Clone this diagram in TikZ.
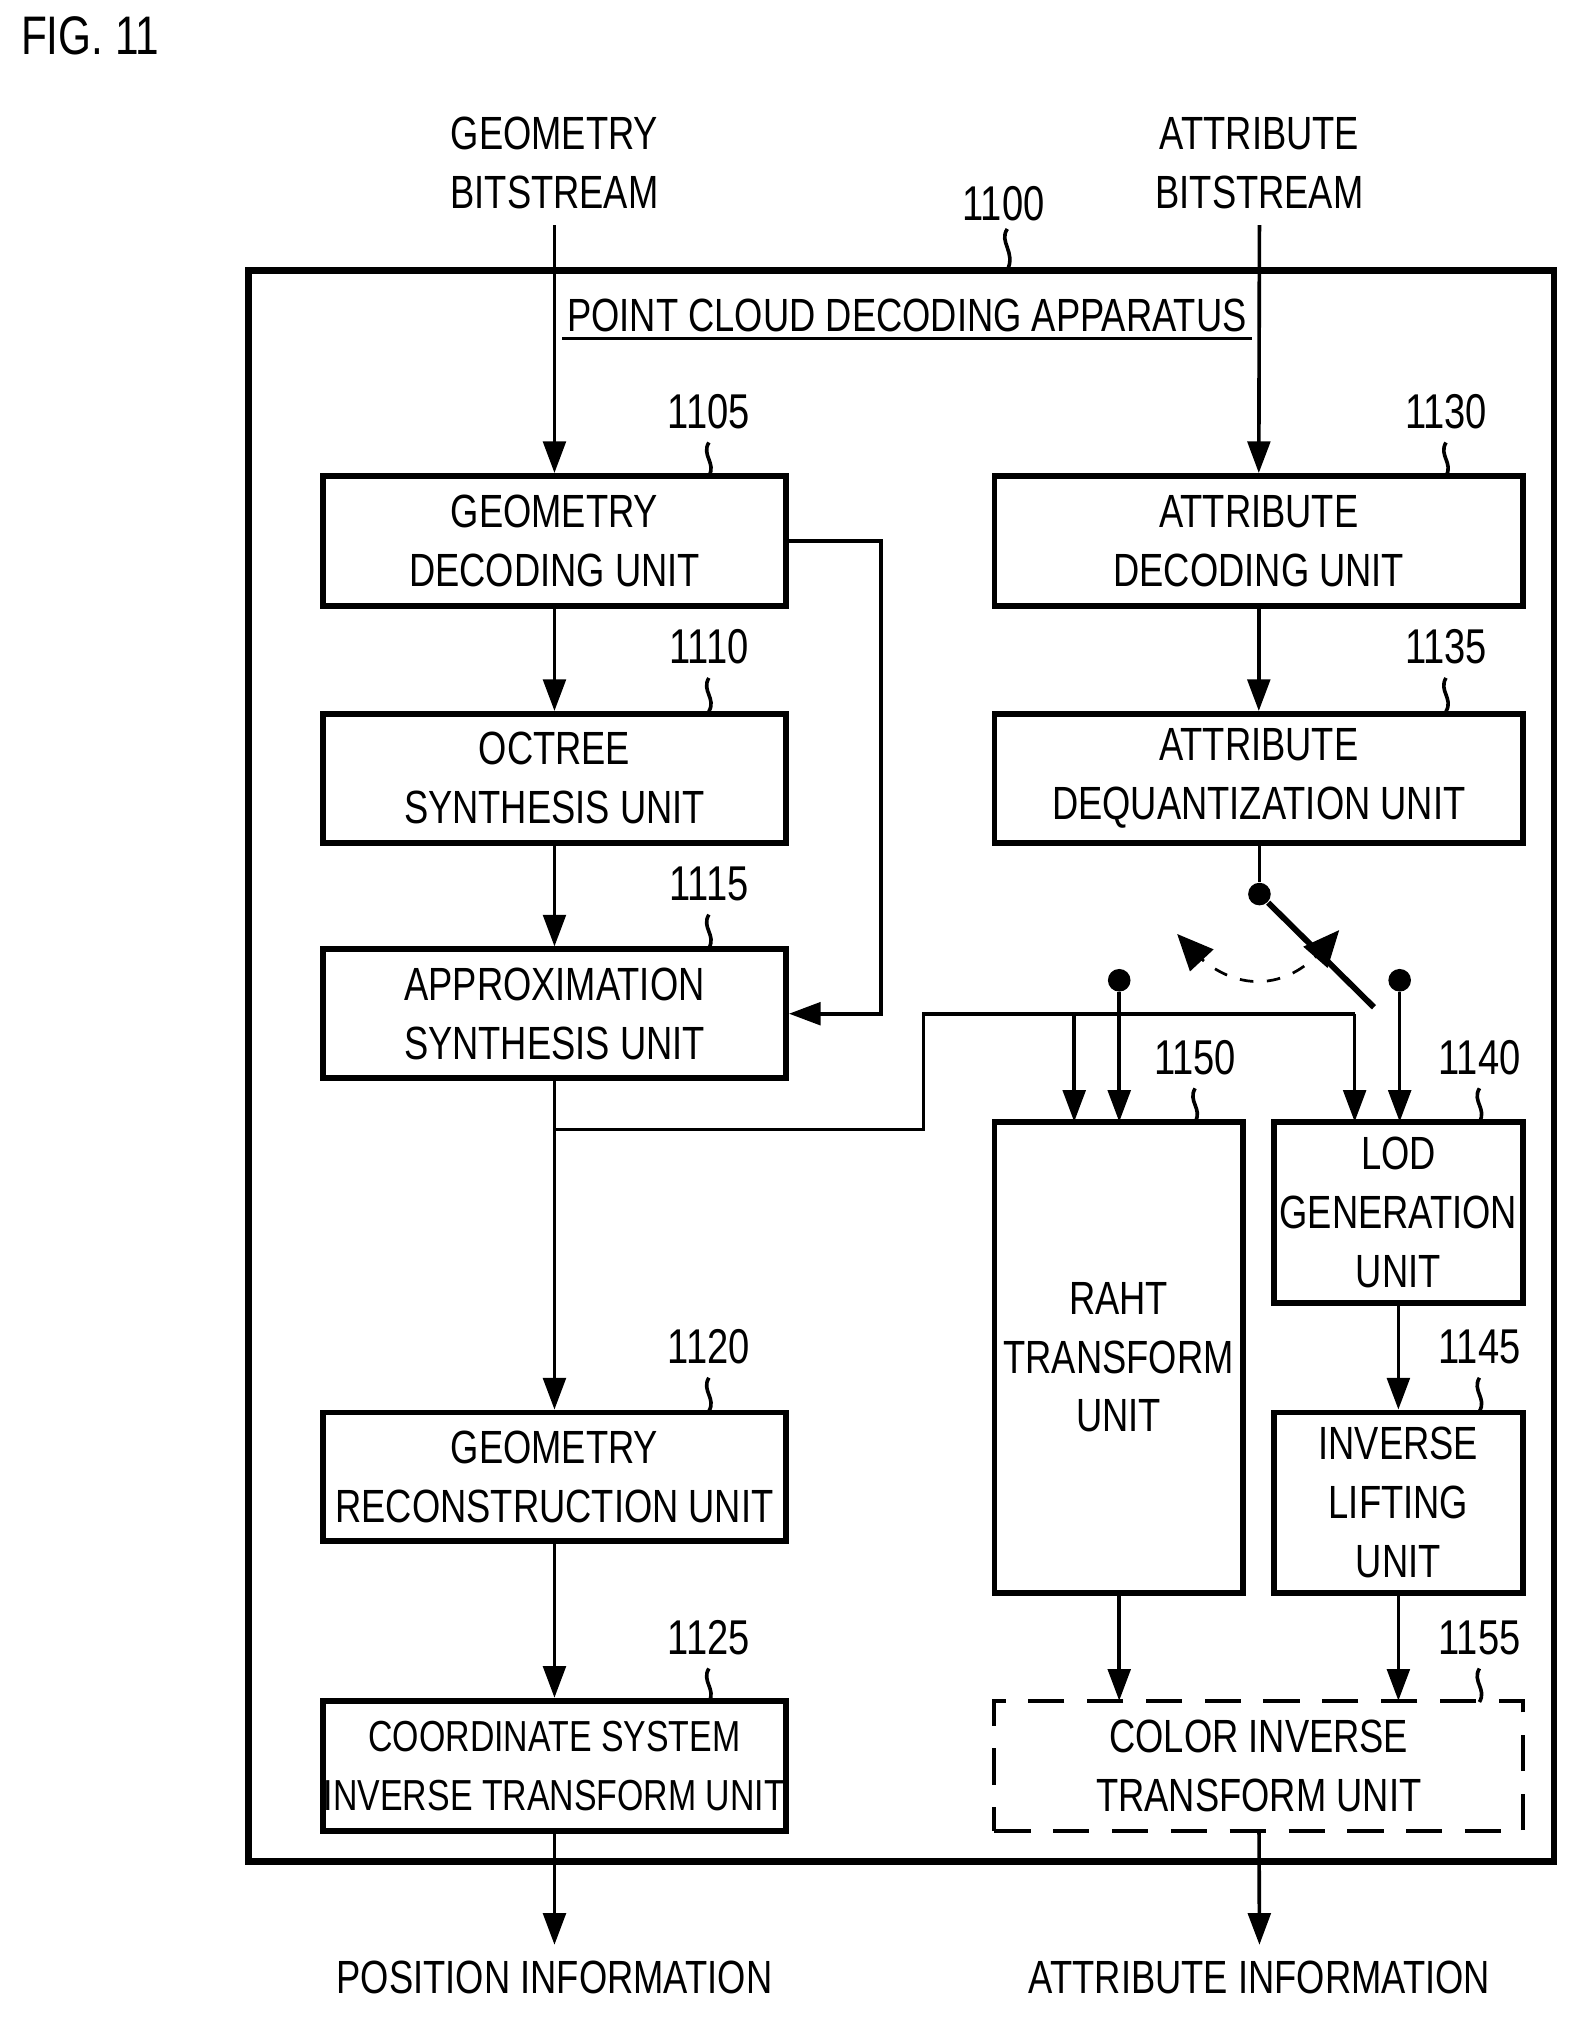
\documentclass[tikz,border=0pt]{standalone}
\usepackage{fontspec}
\setmainfont{Liberation Sans}[FakeStretch=0.78]
\usetikzlibrary{arrows.meta}
\begin{document}
\begin{tikzpicture}[x=0.01cm,y=-0.01cm,
  box/.style={draw,line width=1.3pt,inner sep=0pt},
  lbl/.style={font=\fontsize{10.3}{13}\selectfont,align=center},
  num/.style={font=\fontsize{10.8}{13}\selectfont},
  arr/.style={-{Triangle[length=7pt,width=5pt]},line width=0.8pt},
  tip/.style={-{Triangle[length=8pt,width=7pt]},line width=0.6pt},
  ln/.style={line width=0.8pt},
  dot/.style={circle,fill,inner sep=0pt,minimum size=5pt}]
\useasboundingbox (0,0) rectangle (1227,1571);
\node[font=\fontsize{12}{14}\selectfont\rmfamily] (fig) at (70,28) {FIG. 11};
\draw[line width=1.5pt] (193,210) rectangle (1208,1447);
\coordinate (outerTop) at (783,210);
\node[num] (n1100) at (780,158) {1100};
\draw[ln] (783,178) .. controls (776,188) and (790,196) .. (outerTop);
\node[lbl] (ttl) at (705,245) {POINT CLOUD DECODING APPARATUS};
\draw[ln] (437,263) -- (973,263);
\node[lbl] (gb) at (431,127) {GEOMETRY\\BITSTREAM};
\node[lbl] (ab) at (979,127) {ATTRIBUTE\\BITSTREAM};
\newcommand{\bx}[6]{\node[box,lbl,minimum width=#3*0.01cm,minimum height=#4*0.01cm,#6] (#1) at (#2) {#5};}
\bx{gd}{431,420.5}{360}{101}{GEOMETRY\\DECODING UNIT}{}
\bx{os}{431,605}{360}{100}{OCTREE\\SYNTHESIS UNIT}{}
\bx{as}{431,788}{360}{100}{APPROXIMATION\\SYNTHESIS UNIT}{}
\bx{gr}{431,1148}{360}{100}{GEOMETRY\\RECONSTRUCTION UNIT}{}
\bx{cs}{431,1372.5}{360}{101}{COORDINATE SYSTEM\\INVERSE TRANSFORM UNIT}{font=\fontsize{9.6}{13}\selectfont}
\bx{ad}{978.5,420.5}{411}{101}{ATTRIBUTE\\DECODING UNIT}{}
\bx{dq}{978.5,605}{411}{100}{ATTRIBUTE\\DEQUANTIZATION UNIT}{}
\bx{rt}{869.5,1055}{193}{366}{RAHT\\TRANSFORM\\UNIT}{}
\bx{lod}{1087,942.5}{194}{141}{LOD\\GENERATION\\UNIT}{}
\bx{il}{1087,1168}{194}{140}{INVERSE\\LIFTING\\UNIT}{}
\bx{ci}{978.5,1372.5}{411}{101}{COLOR INVERSE\\TRANSFORM UNIT}{dashed,line width=0.9pt,dash pattern=on 8pt off 5pt}
\newcommand{\nm}[3]{\node[num] at (#1,#2) {#3}; \draw[ln] (#1,#2+24) .. controls (#1-6,#2+34) and (#1+6,#2+40) .. (#1,#2+50);}
\nm{551}{320}{1105}
\nm{551}{503}{1110}
\nm{551}{687}{1115}
\nm{551}{1047}{1120}
\nm{551}{1273}{1125}
\nm{1124}{320}{1130}
\nm{1124}{503}{1135}
\nm{929}{822}{1150}
\nm{1150}{822}{1140}
\nm{1150}{1047}{1145}
\nm{1150}{1273}{1155}
\node[lbl] (pos) at (431,1537) {POSITION INFORMATION};
\node[lbl] (att) at (979,1537) {ATTRIBUTE INFORMATION};
\draw[arr] (gb.south) -- (gd.north);
\draw[arr] (ab.south) -- (ad.north);
\draw[arr] (gd) -- (os);
\draw[arr] (os) -- (as);
\draw[arr] (gd.east) -- (685,420.5) -- (685,788) -- (as.east);
\draw[arr] (as) -- (gr);
\draw[arr] (gr) -- (cs);
\draw[arr] (cs) -- (pos.north);
\draw[arr] (ci) -- (att.north);
\draw[arr] (ad) -- (dq);
\coordinate (j) at (431,878);
\draw[ln] (j) -- (718,878) -- (718,788) -- (1053,788);
\draw[arr] (1053,788) -- (1053,872);
\draw[arr] (835,788) -- (835,872);
\node[dot] (sw) at (979,695) {};
\node[dot] (t1) at (870,762) {};
\node[dot] (t2) at (1088,762) {};
\coordinate (swEnd) at (1068,783);
\draw[ln] (dq.south -| sw) -- (sw);
\draw[line width=1.3pt] (sw) -- (swEnd);
\draw[arr] (t1) -- (870,872);
\draw[arr] (t2) -- (1088,872);
\draw[dashed,line width=0.6pt] (928,740) .. controls (960,772) and (1000,770) .. (1028,738);
\draw[tip] (929,741) -- (915,726);
\draw[tip] (1027,739) -- (1041,723);
\draw[arr] (lod) -- (il);
\draw[arr] (870,1238) -- (870,1322);
\draw[arr] (il) -- (1087,1322);
\end{tikzpicture}
\end{document}
